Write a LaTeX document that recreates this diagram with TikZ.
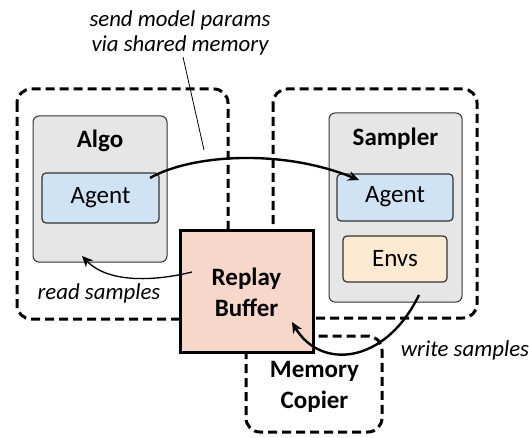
\documentclass[tikz,border=0pt]{standalone}
\usepackage{fontspec}
\setmainfont{Carlito}
\usetikzlibrary{arrows.meta}
\definecolor{grayfill}{HTML}{E6E6E6}
\definecolor{agentblue}{HTML}{CFE3F4}
\definecolor{envsfill}{HTML}{FCEBD2}
\definecolor{bufferfill}{HTML}{F8D7CB}
\definecolor{borderdark}{HTML}{333333}
\tikzset{
  x=1pt, y=-1pt,
  procbox/.style={draw=black, line width=3pt, dash pattern=on 9pt off 5pt, rounded corners=14pt},
  graybox/.style={draw=borderdark, line width=1pt, fill=grayfill, rounded corners=6pt},
  innerbox/.style={draw=borderdark, line width=1.2pt, rounded corners=4pt},
  lbl/.style={font=\fontsize{25}{28}\selectfont, align=center, inner sep=0pt},
  blbl/.style={font=\fontsize{25}{31}\selectfont\bfseries, align=center, inner sep=0pt},
  ilbl/.style={font=\fontsize{22.8}{25}\selectfont\itshape, align=center, inner sep=0pt},
  thickarrow/.style={line width=2.4pt, -{Stealth[length=11pt,width=10pt]}},
  thinarrow/.style={line width=1.3pt, -{Stealth[length=11pt,width=10pt]}},
}
\begin{document}
\begin{tikzpicture}
\useasboundingbox (0,0) rectangle (529,438);
% dashed process boxes
\draw[procbox] (17,89) rectangle (228,319);
\draw[procbox] (273,89) rectangle (477,318);
\draw[procbox] (246,336) rectangle (382,432);
% Algo
\draw[graybox] (33,116) rectangle (167,262);
\node[blbl] (algo) at (100,141) {Algo};
\draw[innerbox, fill=agentblue] (42,173) rectangle (159,223);
\node[lbl] (agentA) at (100.5,198) {Agent};
\coordinate (agentAr) at (150,178);
\coordinate (algoB) at (82,256);
% Sampler
\draw[graybox] (329,113) rectangle (462,302);
\node[blbl] (sampler) at (395.5,139) {Sampler};
\draw[innerbox, fill=agentblue] (337,174) rectangle (453,221);
\node[lbl] (agentS) at (395,197) {Agent};
\coordinate (agentSt) at (359,180);
\draw[innerbox, fill=envsfill] (343,236) rectangle (447,282);
\node[lbl] (envs) at (395,259) {Envs};
\coordinate (envsB) at (419,295);
% Replay buffer
\draw[line width=3pt, fill=bufferfill] (180,230) rectangle (313,352);
\node[blbl] (buffer) at (246.5,292) {Replay\\Buffer};
\coordinate (bufL) at (192,272);
\coordinate (bufIn) at (292,322);
% Memory copier
\node[blbl] (copier) at (314.5,387) {Memory\\Copier};
% labels
\node[ilbl] (sendlbl) at (180,33) {send model params\\via shared memory};
\coordinate (leadA) at (183,57);
\coordinate (leadB) at (204,150);
\node[ilbl] (readlbl) at (99,293) {read samples};
\node[ilbl] (writelbl) at (465,350) {write samples};
% connectors
\draw[line width=0.8pt] (leadA) -- (leadB);
\draw[thickarrow] (agentAr) .. controls (190,155) and (280,148) .. (agentSt);
\draw[thinarrow] (bufL) .. controls (160,280) and (110,285) .. (algoB);
\draw[thickarrow] (envsB) .. controls (385,365) and (320,370) .. (bufIn);
\end{tikzpicture}
\end{document}
